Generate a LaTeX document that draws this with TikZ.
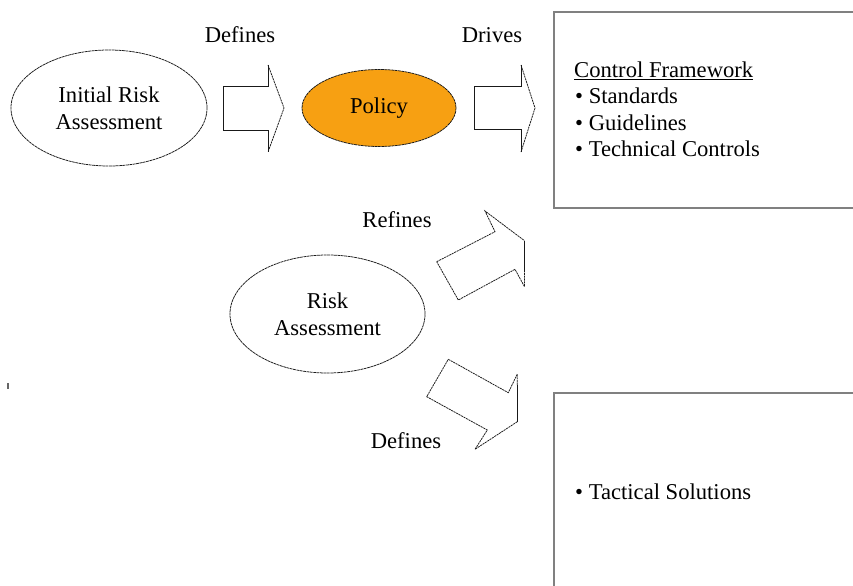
\documentclass[tikz,border=0pt]{standalone}
\usepackage{fontspec}
\setmainfont{Liberation Serif}
\usetikzlibrary{shapes.geometric}
\definecolor{policyorange}{RGB}{247,160,18}
\definecolor{framegray}{RGB}{128,128,128}
\begin{document}
\begin{tikzpicture}[x=0.03cm,y=-0.03cm,
  every node/.style={font=\fontsize{19.3}{22.7}\selectfont, inner sep=0pt},
  bubble/.style={ellipse, draw=black!90, line width=0.65pt,
    dash pattern=on 2.4pt off 0.5pt, align=center},
  arrowline/.style={draw=black!90, line width=0.65pt, line join=miter},
  arrowdash/.style={arrowline, dash pattern=on 1.8pt off 0.6pt},
  framebox/.style={draw=framegray, line width=1.3pt, anchor=north west},
  caption/.style={anchor=base},
  listline/.style={anchor=base west}]

% canvas
\useasboundingbox (0,0) rectangle (853,585);
\clip (0,0) rectangle (853,585);

% ellipses
\node[bubble, minimum width=5.88cm, minimum height=3.48cm] (ira) at (109,108) {Initial Risk\\Assessment};
\node[bubble, fill=policyorange, minimum width=4.62cm, minimum height=2.31cm] (pol) at (379,108) {Policy};
\node[bubble, minimum width=5.85cm, minimum height=3.54cm] (ra) at (327.5,314) {Risk\\Assessment};

% framework boxes (they run off the right and bottom edges)
\node[framebox, minimum width=9.51cm, minimum height=5.88cm] (cfbox) at (553,11) {};
\node[framebox, minimum width=9.51cm, minimum height=6.2cm] (tsbox) at (553,392) {};

% box contents
\node[listline] (cf0) at (574,77) {\underline{Control Framework}};
\node[listline] (cf1) at (575,103) {• Standards};
\node[listline] (cf2) at (575,130) {• Guidelines};
\node[listline] (cf3) at (575,156) {• Technical Controls};
\node[listline] (ts1) at (575,499) {• Tactical Solutions};

% horizontal block arrows: solid shaft, dashed head
\draw[arrowline] (268,65) -- (268,86) -- (223,86) -- (223,130) -- (268,130) -- (268,152);
\draw[arrowdash] (268,65) -- (284,108) -- (268,152);
\draw[arrowline] (521,65) -- (521,86) -- (474,86) -- (474,129) -- (521,129) -- (521,152);
\draw[arrowdash] (521,65) -- (535,108) -- (521,152);

% slanted block arrows, cut off before the boxes
\draw[arrowdash] (436.7,261.7) -- (495,231.7) -- (485,211) -- (524.5,240.7);
\draw[arrowline] (524.5,240.7) -- (524.5,270);
\draw[arrowdash] (524.5,270) -- (524.5,286.7) -- (515,269.3) -- (458.3,300) -- (436.7,261.7);
\draw[arrowdash] (448.3,359.3) -- (508.3,392.7) -- (517.3,374) -- (517.3,385);
\draw[arrowline] (517.3,385) -- (517.3,421.7);
\draw[arrowdash] (517.3,421.7) -- (475,449.3) -- (487.3,430) -- (426.7,396.7) -- (448.3,359.3);

% arrow captions
\node[caption] (lbl1) at (240,42) {Defines};
\node[caption] (lbl2) at (492,42) {Drives};
\node[caption] (lbl3) at (397,227) {Refines};
\node[caption] (lbl4) at (406,448) {Defines};

% small mark at the left edge
\fill[black!60] (7,383) rectangle (9,389);
\end{tikzpicture}
\end{document}
